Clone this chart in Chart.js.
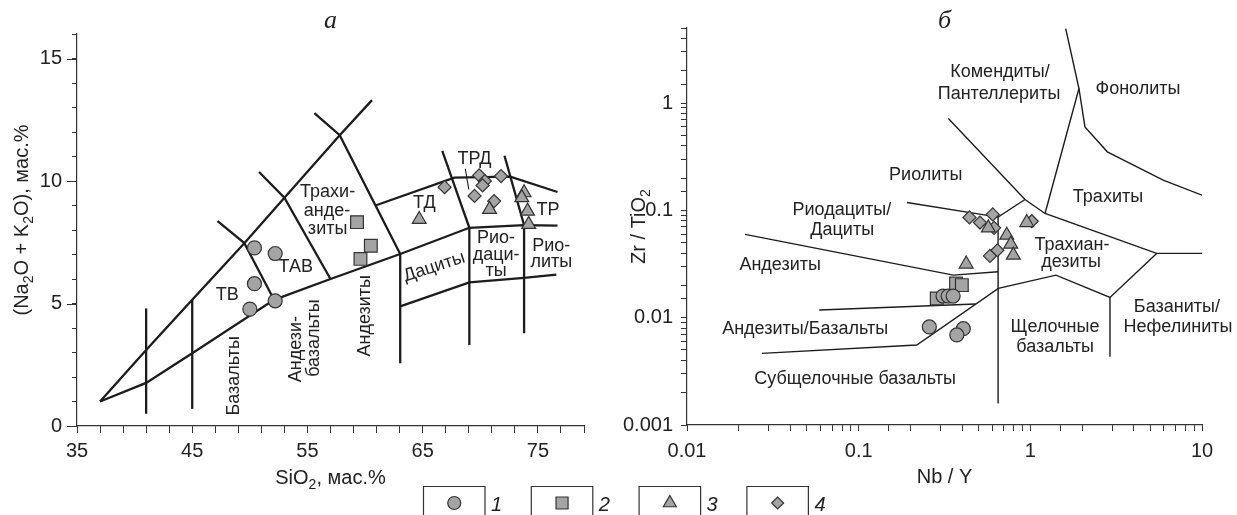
<!DOCTYPE html>
<html>
<head>
<meta charset="utf-8">
<script src="https://cdn.jsdelivr.net/npm/chart.js@4.4.1/dist/chart.umd.min.js"></script>
<style>
  html, body { margin: 0; padding: 0; background: #fff; }
  #wrap { position: relative; width: 1237px; height: 515px; overflow: hidden; }
  .panel { position: absolute; top: 0; height: 515px; }
</style>
</head>
<body>
<div id="wrap">
  <div class="panel" style="left:0;width:610px"><canvas id="tas"></canvas></div>
  <div class="panel" style="left:610px;width:627px"><canvas id="wf"></canvas></div>
  <canvas id="legend" width="440" height="37" style="position:absolute;left:400px;top:478px"></canvas>
</div>
<script>
// --- data: legend ---
const seriesNames = ['1', '2', '3', '4'];
const seriesStyles = ['circle', 'rect', 'triangle', 'rectRot'];

// --- data: TAS diagram (а) ---
const tasXTickLabels = [35, 45, 55, 65, 75];
const tasYTickLabels = [0, 5, 10, 15];
const tasXTitle = [['SiO'], ['2', 'sub'], [', мас.%']];
const tasYTitle = [['(Na'], ['2', 'sub'], ['O + K'], ['2', 'sub'], ['O), мас.%']];

const tasCircles   = [[50.4, 7.27], [52.2, 7.04], [50.4, 5.81], [50.0, 4.77], [52.2, 5.11]];
const tasSquares   = [[59.3, 8.32], [60.5, 7.36], [59.6, 6.82]];
const tasTriangles = [[64.7, 8.43], [70.8, 8.84], [73.8, 9.52], [73.6, 9.32], [74.1, 8.77], [74.2, 8.23]];
const tasDiamonds  = [[66.9, 9.75], [69.9, 10.23], [70.4, 10.0], [70.2, 9.82], [71.8, 10.2], [69.5, 9.39], [71.2, 9.18]];

const tasBoundaries = [
  [[37, 1], [41, 3.1], [45, 5.15], [49.5, 7.45], [53, 9.32], [57.8, 11.87], [60.6, 13.3]],
  [[37, 1], [41, 1.76], [45, 2.97], [52.1, 5.15], [57, 6.0], [63.05, 7.02], [69.05, 8.09], [73.8, 8.2], [76.7, 8.18]],
  [[41, 0.5], [41, 4.8]],
  [[45, 0.7], [45, 5.15]],
  [[47.2, 8.36], [49.5, 7.48], [52.1, 5.15]],
  [[50.8, 10.37], [53, 9.32], [57, 6.0]],
  [[55.6, 12.77], [57.8, 11.87], [63.05, 7.02]],
  [[63.05, 7.02], [63.05, 2.56]],
  [[63.05, 4.88], [69.05, 5.86], [73.8, 6.05], [76.6, 6.18]],
  [[60.9, 9.0], [67.75, 10.14], [72.6, 10.18], [76.7, 9.55]],
  [[66.7, 11.23], [69.05, 8.09], [69.05, 3.31]],
  [[72.1, 11.03], [73.8, 8.2], [73.8, 3.79]]
];
const tasLeader = [[68.7, 10.5], [69.0, 9.66]];

const tasLabels = [
  ['Трахи-', 56.75, 9.53, 0], ['анде-', 56.7, 8.76, 0], ['зиты', 56.75, 8.02, 0],
  ['ТД', 65.14, 9.11, 0], ['ТРД', 69.49, 10.89, 0], ['ТР', 75.87, 8.81, 0],
  ['Рио-', 71.37, 7.68, 0], ['даци-', 71.37, 6.97, 0], ['ты', 71.37, 6.34, 0],
  ['Рио-', 76.16, 7.36, 0], ['литы', 76.16, 6.70, 0],
  ['Дациты', 66.0, 6.49, -18], ['ТАВ', 53.98, 6.48, 0], ['ТВ', 48.04, 5.36, 0],
  ['Базальты', 48.62, 2.05, -90], ['Андези-', 53.98, 3.14, -90],
  ['базальты', 55.57, 3.59, -90], ['Андезиты', 59.98, 4.5, -90]
];

// --- data: Zr/TiO2 - Nb/Y diagram (б) ---
const wfXTickLabels = ['0.01', '0.1', '1', '10'];
const wfYTickLabels = ['0.001', '0.01', '0.1', '1'];
const wfXTitle = [['Nb / Y']];
const wfYTitle = [['Zr / TiO'], ['2', 'sub']];

const wfCircles   = [[0.258, 0.0082], [0.407, 0.0079], [0.373, 0.0069], [0.31, 0.0159], [0.332, 0.0159], [0.355, 0.0159]];
const wfSquares   = [[0.285, 0.0151], [0.369, 0.0208], [0.399, 0.0201]];
const wfTriangles = [[0.423, 0.0316], [0.729, 0.0587], [0.769, 0.0484], [0.796, 0.0383], [0.569, 0.0687], [0.953, 0.077]];
const wfDiamonds  = [[0.442, 0.0859], [0.509, 0.077], [0.604, 0.0916], [0.615, 0.0687], [0.582, 0.0376], [0.643, 0.0425], [1.02, 0.0792]];

const wfBoundaries = [
  [[0.333, 0.718], [0.931, 0.1263], [1.218, 0.0935], [5.44, 0.0397], [10, 0.0397]],
  [[1.218, 0.0935], [1.92, 1.365], [1.607, 4.94]],
  [[1.92, 1.365], [2.08, 0.599], [2.81, 0.351], [5.94, 0.191], [10, 0.1385]],
  [[0.191, 0.1184], [0.649, 0.0865], [0.931, 0.1263]],
  [[0.649, 0.0865], [0.649, 0.00159]],
  [[0.0218, 0.0597], [0.356, 0.0249], [0.649, 0.0268]],
  [[0.059, 0.0118], [0.48, 0.0134]],
  [[0.0273, 0.00465], [0.218, 0.00556], [0.651, 0.01874], [1.411, 0.0249], [2.91, 0.01545], [5.44, 0.0397]],
  [[2.91, 0.01545], [2.91, 0.00433]]
];

const wfLabels = [
  ['Комендиты/', 0.666, 1.948, 0], ['Пантеллериты', 0.657, 1.208, 0], ['Фонолиты', 4.236, 1.336, 0],
  ['Риолиты', 0.246, 0.2128, 0], ['Риодациты/', 0.0798, 0.1004, 0], ['Дациты', 0.0802, 0.0654, 0],
  ['Трахиты', 2.834, 0.1336, 0], ['Трахиан-', 1.749, 0.0474, 0], ['дезиты', 1.726, 0.0331, 0],
  ['Андезиты', 0.0349, 0.0309, 0], ['Андезиты/Базальты', 0.0488, 0.00783, 0],
  ['Субщелочные базальты', 0.0954, 0.002664, 0],
  ['Щелочные', 1.393, 0.00823, 0], ['базальты', 1.393, 0.00536, 0],
  ['Базаниты/', 7.14, 0.01263, 0], ['Нефелиниты', 7.24, 0.00823, 0]
];

// --- styling ---
const INK = '#1c1c1c';
const AXIS = '#333';
const FILL = '#a4a4a4';
const SANS = '"Liberation Sans", Arial, sans-serif';
const markerSize = { circle: 7, rect: 9, triangle: 8, rectRot: 6.5 };

const toXY = pts => pts.map(([x, y]) => ({ x, y }));

function pointSet(i, pts) {
  const style = seriesStyles[i];
  return {
    label: seriesNames[i], data: toXY(pts), showLine: false, order: 1,
    pointStyle: style, pointRadius: markerSize[style],
    backgroundColor: FILL, borderColor: AXIS, borderWidth: 1.2
  };
}

function lineSet(pts, width) {
  return {
    data: toXY(pts), showLine: true, pointRadius: 0, order: 2, tension: 0,
    borderColor: INK, borderWidth: width, fill: false
  };
}

function tickLabel(v, list) {
  const s = String(+Number(v).toPrecision(6));
  return list.map(String).includes(s) ? s : '';
}

function axisOpts(extra) {
  return Object.assign({
    grid: { display: true, drawOnChartArea: false, drawTicks: true, tickLength: 6, color: AXIS, lineWidth: 1 },
    border: { display: true, color: AXIS, width: 1.2 },
    ticks: { autoSkip: false, maxRotation: 0, color: '#222', font: { family: SANS, size: 20 } },
    title: { display: false }
  }, extra);
}

// text with subscripts, centred on (x, y) baseline, optionally rotated
function drawRich(ctx, parts, x, y, rot) {
  const fontOf = p => (p[1] === 'sub' ? '14px ' : '20px ') + SANS;
  let total = 0;
  parts.forEach(p => { ctx.font = fontOf(p); total += ctx.measureText(p[0]).width; });
  ctx.save();
  ctx.translate(x, y);
  ctx.rotate(rot * Math.PI / 180);
  ctx.textAlign = 'left';
  ctx.textBaseline = 'alphabetic';
  let cx = -total / 2;
  parts.forEach(p => {
    ctx.font = fontOf(p);
    ctx.fillText(p[0], cx, p[1] === 'sub' ? 5 : 0);
    cx += ctx.measureText(p[0]).width;
  });
  ctx.restore();
}

// draws field names, axis titles, the panel letter and the longer major ticks
const fieldLabels = {
  id: 'fieldLabels',
  beforeDatasetsDraw(chart, args, opts) {
    const { ctx, chartArea, scales } = chart;
    ctx.save();
    ctx.fillStyle = '#222';
    ctx.textAlign = 'center';
    ctx.textBaseline = 'middle';
    ctx.font = '18px ' + SANS;
    opts.items.forEach(([text, x, y, rot]) => {
      ctx.save();
      ctx.translate(scales.x.getPixelForValue(x), scales.y.getPixelForValue(y));
      ctx.rotate(rot * Math.PI / 180);
      ctx.fillText(text, 0, 0);
      ctx.restore();
    });
    const midX = (chartArea.left + chartArea.right) / 2;
    const midY = (chartArea.top + chartArea.bottom) / 2;
    drawRich(ctx, opts.xTitle, midX, chartArea.bottom + 58, 0);
    drawRich(ctx, opts.yTitle, chartArea.left - opts.yTitleGap, midY + opts.yTitleShift, -90);
    ctx.font = 'italic 26px "Liberation Serif", "Times New Roman", serif';
    ctx.textAlign = 'center';
    ctx.textBaseline = 'alphabetic';
    ctx.fillText(opts.panel, midX, 28);
    if (opts.majorY) {
      ctx.strokeStyle = AXIS;
      ctx.lineWidth = 1;
      opts.majorY.forEach(v => {
        const y = Math.round(scales.y.getPixelForValue(v)) + 0.5;
        ctx.beginPath();
        ctx.moveTo(chartArea.left - 10, y);
        ctx.lineTo(chartArea.left, y);
        ctx.stroke();
      });
    }
    ctx.restore();
  }
};

Chart.defaults.animation = false;
Chart.defaults.events = [];

// --- а: TAS ---
new Chart(document.getElementById('tas'), {
  type: 'scatter',
  data: {
    datasets: [
      pointSet(0, tasCircles), pointSet(1, tasSquares), pointSet(2, tasTriangles), pointSet(3, tasDiamonds),
      ...tasBoundaries.map(b => lineSet(b, 2.3)),
      lineSet(tasLeader, 1.1)
    ]
  },
  options: {
    responsive: true,
    maintainAspectRatio: false,
    layout: { padding: { top: 34, right: 26, bottom: 0, left: 0 } },
    plugins: {
      legend: { display: false }, tooltip: { enabled: false },
      fieldLabels: { items: tasLabels, panel: 'а', majorY: tasYTickLabels,
                     xTitle: tasXTitle, yTitle: tasYTitle, yTitleGap: 49, yTitleShift: -10 }
    },
    scales: {
      x: axisOpts({
        type: 'linear', min: 35, max: 79,
        afterFit: s => { s.height = 89; },
        grid: { display: true, drawOnChartArea: false, tickLength: 7, color: AXIS },
        ticks: { stepSize: 2, autoSkip: false, maxRotation: 0, padding: 6, color: '#222',
                 font: { family: SANS, size: 20 }, callback: v => tickLabel(v, tasXTickLabels) }
      }),
      y: axisOpts({
        type: 'linear', min: 0, max: 16,
        afterFit: s => { s.width = 77; },
        grid: { display: true, drawOnChartArea: false, tickLength: 5, color: AXIS },
        ticks: { stepSize: 1, autoSkip: false, padding: 10, color: '#222',
                 font: { family: SANS, size: 20 }, callback: v => tickLabel(v, tasYTickLabels) }
      })
    }
  },
  plugins: [fieldLabels]
});

// --- б: Zr/TiO2 vs Nb/Y ---
new Chart(document.getElementById('wf'), {
  type: 'scatter',
  data: {
    datasets: [
      pointSet(0, wfCircles), pointSet(1, wfSquares), pointSet(2, wfTriangles), pointSet(3, wfDiamonds),
      ...wfBoundaries.map(b => lineSet(b, 1.4))
    ]
  },
  options: {
    responsive: true,
    maintainAspectRatio: false,
    layout: { padding: { top: 28, right: 35, bottom: 0, left: 0 } },
    plugins: {
      legend: { display: false }, tooltip: { enabled: false },
      fieldLabels: { items: wfLabels, panel: 'б',
                     xTitle: wfXTitle, yTitle: wfYTitle, yTitleGap: 42, yTitleShift: 0 }
    },
    scales: {
      x: axisOpts({
        type: 'logarithmic', min: 0.01, max: 10,
        afterFit: s => { s.height = 90; },
        ticks: { autoSkip: false, maxRotation: 0, padding: 8, color: '#222',
                 font: { family: SANS, size: 20 }, callback: v => tickLabel(v, wfXTickLabels) }
      }),
      y: axisOpts({
        type: 'logarithmic', min: 0.001, max: 5,
        afterFit: s => { s.width = 77; },
        ticks: { autoSkip: false, padding: 8, color: '#222',
                 font: { family: SANS, size: 20 }, callback: v => tickLabel(v, wfYTickLabels) }
      })
    }
  },
  plugins: [fieldLabels]
});

// --- legend under both panels ---
const lg = document.getElementById('legend').getContext('2d');
lg.lineWidth = 1.2;
lg.font = 'italic 20px ' + SANS;
lg.textBaseline = 'alphabetic';
seriesNames.forEach((name, i) => {
  const left = 23.5 + i * 107.8, w = 61.5, top = 8.5;
  lg.strokeStyle = AXIS;
  lg.beginPath();
  lg.moveTo(left, 40); lg.lineTo(left, top); lg.lineTo(left + w, top); lg.lineTo(left + w, 40);
  lg.stroke();
  lg.fillStyle = FILL;
  Chart.helpers.drawPoint(lg, { pointStyle: seriesStyles[i], radius: markerSize[seriesStyles[i]] - 0.5,
                                borderWidth: 1.2, rotation: 0 }, left + w / 2, 25);
  lg.fillStyle = '#222';
  lg.fillText(name, left + w + 6, 33);
});
</script>
</body>
</html>
